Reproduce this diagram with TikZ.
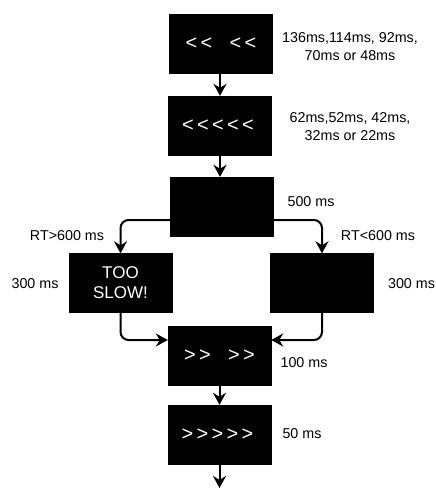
\documentclass[tikz,border=0pt]{standalone}
\usepackage{fontspec}
\setmainfont{Liberation Sans}
\usetikzlibrary{arrows.meta}
\newcommand\chv[1]{\makebox[15pt]{#1}}
\tikzset{
  blk/.style={fill=black, draw=black, minimum width=103pt, minimum height=59pt, inner sep=0pt, text=white, font=\fontsize{20}{22}\selectfont, align=center},
  lbl/.style={font=\fontsize{14.3}{18}\selectfont, align=center, inner sep=0pt},
  arr/.style={line width=2pt, -{Stealth[length=12pt,width=13pt,inset=4pt]}},
}
\begin{document}
\begin{tikzpicture}[x=1pt,y=-1pt]
\useasboundingbox (0,0) rectangle (436,488);
% boxes
\node[blk] (b1) at (221,44) {\chv{<}\chv{<}\hspace{14pt}\chv{<}\chv{<}};
\node[blk] (b2) at (220,125.5) {\hspace{-4pt}\chv{<}\chv{<}\chv{<}\chv{<}\chv{<}};
\node[blk] (b3) at (221.5,206.5) {};
\node[blk, font=\fontsize{17}{20}\selectfont] (bl) at (120.5,283) {TOO\\SLOW!};
\node[blk] (br) at (322,283) {};
\node[blk] (b4) at (219.5,355.5) {\chv{>}\chv{>}\hspace{14pt}\chv{>}\chv{>}};
\node[blk] (b5) at (219.5,434.5) {\hspace{-4pt}\chv{>}\chv{>}\chv{>}\chv{>}\chv{>}};
\coordinate (end) at (219.5,488);
% labels
\node[lbl] (t1) at (350,47) {136ms,114ms, 92ms,\\70ms or 48ms};
\node[lbl] (t2) at (350,127) {62ms,52ms, 42ms,\\32ms or 22ms};
\node[lbl] (t3) at (311,202) {500 ms};
\node[lbl] (t4) at (67,236) {RT>600 ms};
\node[lbl] (t5) at (378,236) {RT<600 ms};
\node[lbl] (t6) at (35,284) {300 ms};
\node[lbl] (t7) at (411.5,284) {300 ms};
\node[lbl] (t8) at (304,363) {100 ms};
\node[lbl] (t9) at (302,434) {50 ms};
% connectors
\draw[arr] (b1.south -| 220,0) -- (b2.north -| 220,0);
\draw[arr] (b2) ++(0,29.5) -- (b3.north -| 220,0);
\draw[arr, rounded corners=8pt] ([yshift=-13.5pt]b3.west) -| (bl.north);
\draw[arr, rounded corners=8pt] ([yshift=-13.5pt]b3.east) -| (br.north);
\draw[arr, rounded corners=8pt] (bl.south) |- ([yshift=15.5pt]b4.west);
\draw[arr, rounded corners=8pt] (br.south) |- ([yshift=15.5pt]b4.east);
\draw[arr] (b4.south) -- (b5.north);
\draw[arr] (b5.south) -- (end);
\end{tikzpicture}
\end{document}
